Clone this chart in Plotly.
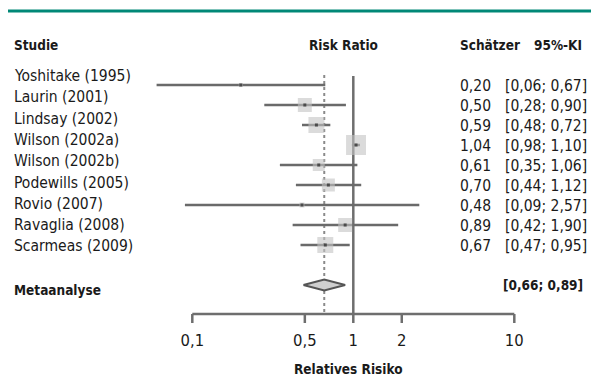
import plotly.graph_objects as go
import math

# ---------------- data ----------------
studies = ["Yoshitake (1995)", "Laurin (2001)", "Lindsay (2002)", "Wilson (2002a)",
           "Wilson (2002b)", "Podewills (2005)", "Rovio (2007)", "Ravaglia (2008)",
           "Scarmeas (2009)"]
rr = [0.20, 0.50, 0.59, 1.04, 0.61, 0.70, 0.48, 0.89, 0.67]
ci_lo = [0.06, 0.28, 0.48, 0.98, 0.35, 0.44, 0.09, 0.42, 0.47]
ci_hi = [0.67, 0.90, 0.72, 1.10, 1.06, 1.12, 2.57, 1.90, 0.95]
weights = [1.0, 11.8, 15.4, 24.1, 8.7, 10.2, 1.5, 11.8, 15.4]  # estimated study weights (%)
meta_est = 0.66
meta_lo = 0.49
meta_hi = 0.89
meta_label = "[0,66; 0,89]"
tick_vals = [0.1, 0.5, 1, 2, 10]
tick_text = ["0,1", "0,5", "1", "2", "10"]

# ---------------- layout helpers ----------------
W, H = 591, 376
X0PX, PX_PER_DEC = 192.3, 161.0          # pixel of 0.1 and pixels per decade
xr = [-1 - X0PX / PX_PER_DEC, -1 + (W - X0PX) / PX_PER_DEC]
ROW0, ROWSTEP = 85, 20
row_y = [ROW0 + ROWSTEP * i for i in range(len(studies))]
meta_y = ROW0 + ROWSTEP * 10
AXIS_Y = 314
FONT = "DejaVu Sans Condensed, Roboto, sans-serif"
TXT = "#1a1a1a"
LINE = "#6a6a6a"
REG = 15.5
BOLD = 13.5

def fmt(v):
    return f"{v:.2f}".replace(".", ",")

fig = go.Figure()

# dotted line at meta estimate
fig.add_trace(go.Scatter(x=[meta_est, meta_est], y=[75, AXIS_Y - 2], mode="lines",
                         line=dict(color="#8a8a8a", width=2, dash="dot"), hoverinfo="skip"))
# line of no effect
fig.add_trace(go.Scatter(x=[1, 1], y=[76, AXIS_Y], mode="lines",
                         line=dict(color="#6e6e6e", width=2.5), hoverinfo="skip"))

# CI lines
xs, ys = [], []
for lo, hi, y in zip(ci_lo, ci_hi, row_y):
    xs += [lo, hi, None]
    ys += [y, y, None]
fig.add_trace(go.Scatter(x=xs, y=ys, mode="lines", line=dict(color=LINE, width=2.5),
                         hoverinfo="skip"))

# weight squares
sizes = [4.07 * math.sqrt(w) for w in weights]
fig.add_trace(go.Scatter(x=rr, y=row_y, mode="markers",
                         marker=dict(symbol="square", size=sizes, color="rgba(195,195,195,0.85)",
                                     line=dict(width=0)), hoverinfo="skip"))
fig.add_trace(go.Scatter(x=rr, y=row_y, mode="markers",
                         marker=dict(symbol="square", size=3, color="#4a4a4a"), hoverinfo="skip"))

# diamond
fig.add_trace(go.Scatter(x=[meta_lo, meta_est, meta_hi, meta_est, meta_lo],
                         y=[meta_y, meta_y - 5.5, meta_y, meta_y + 5.5, meta_y],
                         mode="lines", fill="toself", fillcolor="#cfcfcf",
                         line=dict(color="#555555", width=2), hoverinfo="skip"))

# x axis line and ticks
fig.add_trace(go.Scatter(x=[tick_vals[0], tick_vals[-1]], y=[AXIS_Y, AXIS_Y], mode="lines",
                         line=dict(color="#6e6e6e", width=2.5), hoverinfo="skip"))
tx, ty = [], []
for v in tick_vals:
    tx += [v, v, None]
    ty += [AXIS_Y, AXIS_Y + 9, None]
fig.add_trace(go.Scatter(x=tx, y=ty, mode="lines", line=dict(color="#6e6e6e", width=2.5),
                         hoverinfo="skip"))
fig.add_trace(go.Scatter(x=tick_vals, y=[342] * len(tick_vals), mode="text", text=tick_text,
                         textfont=dict(family=FONT, size=16.5, color=TXT), hoverinfo="skip"))

ann = []
def A(text, xpx, ypx, anchor="left", bold=False, size=REG):
    ann.append(dict(text=f"<b>{text}</b>" if bold else text, x=xpx / W, xref="paper",
                    y=ypx, yref="y", xanchor=anchor, yanchor="middle", showarrow=False,
                    font=dict(family=FONT, size=size, color=TXT)))

A("Studie", 12, 45, bold=True, size=BOLD)
A("Risk Ratio", 343, 45, anchor="center", bold=True, size=BOLD)
A("Schätzer", 458, 45, bold=True, size=BOLD)
A("95%-KI", 584, 45, anchor="right", bold=True, size=BOLD)
for i, s in enumerate(studies):
    A(s, 12, 76 + 21.3 * i)
for e, lo, hi, y in zip(rr, ci_lo, ci_hi, row_y):
    A(fmt(e), 458, y + 1)
    A(f"[{fmt(lo)}; {fmt(hi)}]", 503, y + 1)
A("Metaanalyse", 12, 290, bold=True, size=BOLD)
A(meta_label, 585, meta_y, anchor="right", bold=True, size=BOLD)
A("Relatives Risiko", 348, 369, anchor="center", bold=True, size=BOLD)

fig.update_layout(
    width=W, height=H, margin=dict(l=0, r=0, t=0, b=0),
    paper_bgcolor="white", plot_bgcolor="white", showlegend=False,
    xaxis=dict(type="log", range=xr, domain=[0, 1], visible=False, fixedrange=True),
    yaxis=dict(range=[H, 0], domain=[0, 1], visible=False, fixedrange=True),
    annotations=ann,
    shapes=[dict(type="line", xref="paper", yref="paper", x0=8 / W, x1=1,
                 y0=1 - 11 / H, y1=1 - 11 / H, line=dict(color="#008877", width=3))],
)
fig.write_html("out.html", config={"staticPlot": True},
               post_script="document.body.style.margin='0';document.body.style.overflow='hidden';")
